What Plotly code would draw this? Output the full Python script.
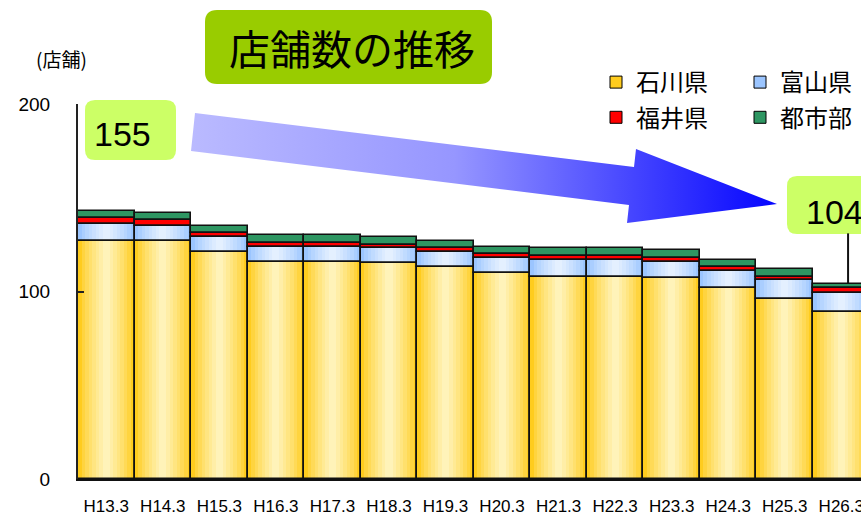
import plotly.graph_objects as go

# ---------------- data ----------------
categories = ["H13.3", "H14.3", "H15.3", "H16.3", "H17.3", "H18.3", "H19.3",
              "H20.3", "H21.3", "H22.3", "H23.3", "H24.3", "H25.3", "H26.3"]
ishikawa = [127, 127, 121, 116, 116, 115, 113, 110, 108, 108, 107, 102, 96, 89]
toyama = [9, 8, 8, 8, 8, 8, 8, 8, 9, 9, 9, 9, 10, 10]
fukui = [3, 3, 2, 2, 2, 2, 2, 2, 2, 2, 2, 2, 2, 3]
toshibu = [4, 4, 4, 4, 4, 4, 4, 4, 4, 4, 4, 4, 4, 2]
series_names = ["石川県", "富山県", "福井県", "都市部"]
y_tick_values = [0, 100, 200]
y_unit_label = "(店舗)"
title_text = "店舗数の推移"
callout_labels = ["155", "104"]

# ---------------- styling ----------------
W, H = 861, 515
FONT = "Liberation Sans, Arial, sans-serif"
JFONT = "Noto Sans CJK JP, Noto Sans, sans-serif"

styles = {
    "石川県": ((255, 204, 30), (255, 243, 185), "legend"),
    "富山県": ((155, 197, 255), (228, 240, 255), "legend2"),
    "福井県": ((255, 0, 0), (255, 0, 0), "legend"),
    "都市部": ((46, 150, 98), (46, 150, 98), "legend2"),
}

def mix(c1, c2, t):
    return "rgb(%d,%d,%d)" % tuple(round(a + (b - a) * t) for a, b in zip(c1, c2))

values = [ishikawa, toyama, fukui, toshibu]
bases = []
run = [0] * len(categories)
for v in values:
    bases.append(list(run))
    run = [r + x for r, x in zip(run, v)]
totals = run

fig = go.Figure()

for name, vals, base in zip(series_names, values, bases):
    edge, center, leg = styles[name]
    n = 8 if edge != center else 1
    for k in range(n):
        t = (k / (n - 1)) ** 0.8 if n > 1 else 0
        fig.add_trace(go.Bar(
            x=categories, y=vals, base=base, width=1.0 - k / n,
            marker=dict(color=mix(edge, center, t),
                        line=dict(color="black", width=1 if k == 0 else 0)),
            name=name, legendgroup=name, legend=leg, showlegend=(k == 0),
            hoverinfo="skip" if k else "y+name",
        ))

for name, vals, base in zip(series_names, values, bases):
    fig.add_trace(go.Bar(
        x=categories, y=vals, base=base, width=1.0,
        marker=dict(color="rgba(0,0,0,0)", line=dict(color="#111", width=1.6)),
        name=name, legendgroup=name, showlegend=False, hoverinfo="skip",
    ))

# gradient arrow (pixel coordinates on an overlay axis pair)
arrow_x = [195, 634, 636, 777, 627, 629, 191, 195]
arrow_y = [113, 167, 149, 204, 223, 205, 151, 113]
fig.add_trace(go.Scatter(
    x=arrow_x, y=arrow_y, xaxis="x2", yaxis="y2", mode="lines",
    fill="toself", line=dict(width=0, color="rgba(0,0,0,0)"),
    fillgradient=dict(type="horizontal",
                      colorscale=[[0, "rgb(186,186,255)"], [0.45, "rgb(150,150,255)"],
                                  [0.75, "rgb(70,70,255)"], [1, "rgb(5,5,255)"]]),
    showlegend=False, hoverinfo="skip",
))

def rrect(x0, y0, x1, y1, r):
    return (f"M{x0+r},{y0} L{x1-r},{y0} Q{x1},{y0} {x1},{y0+r} L{x1},{y1-r} "
            f"Q{x1},{y1} {x1-r},{y1} L{x0+r},{y1} Q{x0},{y1} {x0},{y1-r} "
            f"L{x0},{y0+r} Q{x0},{y0} {x0+r},{y0} Z")

shapes = [
    dict(type="path", xref="x2", yref="y2", path=rrect(205, 10, 492, 84, 12),
         fillcolor="#99CC00", line=dict(width=0)),
    dict(type="path", xref="x2", yref="y2", path=rrect(85, 100, 176, 160, 10),
         fillcolor="#CCFF66", line=dict(width=0)),
    dict(type="path", xref="x2", yref="y2", path=rrect(787, 176, 890, 234, 10),
         fillcolor="#CCFF66", line=dict(width=0)),
    dict(type="line", xref="x", yref="y", x0=len(categories) - 1 + 0.12,
         x1=len(categories) - 1 + 0.12, y0=totals[-1], y1=131,
         line=dict(color="#111", width=2)),
]

annotations = [
    dict(xref="x2", yref="y2", x=352, y=47, text=title_text, showarrow=False,
         font=dict(family=JFONT, size=41, color="black")),
    dict(xref="x2", yref="y2", x=61, y=58, text=y_unit_label, showarrow=False,
         font=dict(family=JFONT, size=19, color="black")),
    dict(xref="x2", yref="y2", x=122, y=134, text=callout_labels[0], showarrow=False,
         font=dict(family=FONT, size=34, color="black")),
    dict(xref="x2", yref="y2", x=834, y=212, text=callout_labels[1], showarrow=False,
         font=dict(family=FONT, size=34, color="black")),
]

pitch = 56.54
fig.update_layout(
    width=W, height=H, margin=dict(l=0, r=0, t=0, b=0, pad=0, autoexpand=False),
    paper_bgcolor="white", plot_bgcolor="rgba(0,0,0,0)",
    barmode="overlay", bargap=0,
    font=dict(family=FONT, color="black"),
    xaxis=dict(domain=[78 / W, 1], range=[-0.5, -0.5 + (W - 78) / pitch],
               type="category", showline=True, linecolor="#111", linewidth=2,
               ticks="", showgrid=False, zeroline=False, ticklabelstandoff=11,
               automargin=False,
               tickfont=dict(family=FONT, size=17, color="black"), fixedrange=True),
    yaxis=dict(domain=[(H - 479) / H, (H - 104) / H], range=[0, 200],
               tickvals=y_tick_values, showline=True, linecolor="#222", linewidth=2,
               ticks="inside", ticklen=6, tickwidth=1.5, tickcolor="#222",
               showgrid=False, zeroline=False, ticklabelstandoff=22, automargin=False,
               tickfont=dict(family=FONT, size=19, color="black"), fixedrange=True),
    xaxis2=dict(domain=[0, 1], range=[0, W], visible=False, anchor="y2", fixedrange=True),
    yaxis2=dict(domain=[0, 1], range=[H, 0], visible=False, anchor="x2", fixedrange=True),
    legend=dict(x=596 / W, y=1 - 60 / H, xanchor="left", yanchor="top",
                bgcolor="rgba(0,0,0,0)", traceorder="grouped", tracegroupgap=1,
                font=dict(family=JFONT, size=24, color="black")),
    legend2=dict(x=740 / W, y=1 - 60 / H, xanchor="left", yanchor="top",
                 bgcolor="rgba(0,0,0,0)", traceorder="grouped", tracegroupgap=1,
                 font=dict(family=JFONT, size=24, color="black")),
    shapes=shapes, annotations=annotations,
)

fig.write_html("out.html", config={"displayModeBar": False},
               post_script="document.body.style.margin='0';"
               "document.body.style.overflow='hidden';")
